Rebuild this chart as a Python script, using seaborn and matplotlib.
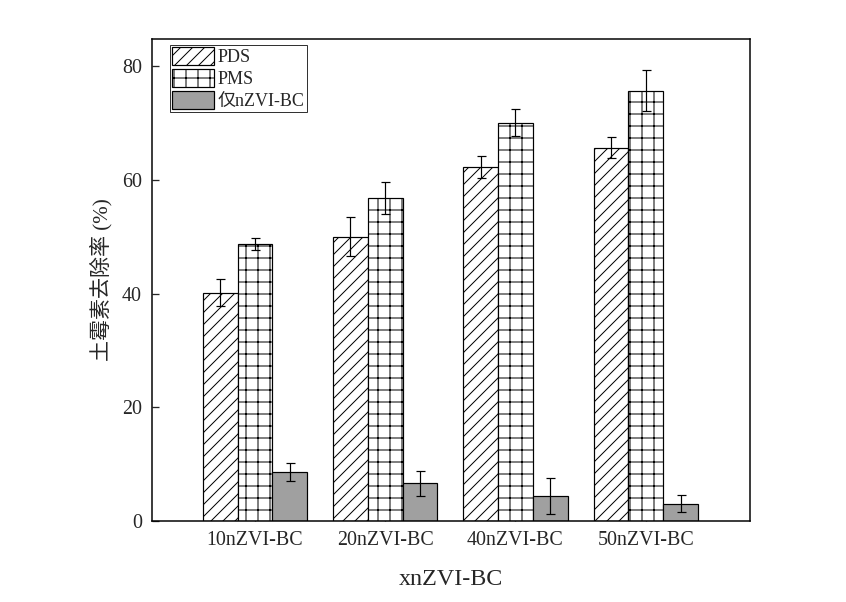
import numpy as np
import pandas as pd
import matplotlib
matplotlib.use('Agg')
import matplotlib.pyplot as plt
import seaborn as sns
from matplotlib.patches import Patch

categories = ['10nZVI-BC', '20nZVI-BC', '40nZVI-BC', '50nZVI-BC']
series = ['PDS', 'PMS', '仅nZVI-BC']
pds = [40.2, 50.0, 62.3, 65.7]
pds_err = [2.4, 3.4, 1.9, 1.9]
pms = [48.7, 56.8, 70.1, 75.7]
pms_err = [1.1, 2.8, 2.3, 3.6]
only = [8.6, 6.6, 4.4, 3.0]
only_err = [1.6, 2.2, 3.1, 1.5]

values = [pds, pms, only]
errors = [pds_err, pms_err, only_err]

rows = []
for s, vals in zip(series, values):
    for c, v in zip(categories, vals):
        rows.append({'cat': c, 'series': s, 'val': v})
df = pd.DataFrame(rows)

sns.set_style('white')
plt.rcParams['font.family'] = ['Liberation Serif', 'Noto Sans CJK SC']
plt.rcParams['hatch.linewidth'] = 1.0

DPI = 72
fig = plt.figure(figsize=(846 / DPI, 602 / DPI), dpi=DPI)
ax = fig.add_axes([152 / 846, 81 / 602, 598 / 846, 482 / 602])

colors = ['white', 'white', '#a0a0a0']
hatches = ['//', '+', '']
sns.barplot(data=df, x='cat', y='val', hue='series', order=categories,
            hue_order=series, palette=colors, errorbar=None, width=0.8,
            edgecolor='black', linewidth=1.2, ax=ax, legend=False)

for cont, h, errs in zip(ax.containers, hatches, errors):
    xs, ys = [], []
    for p in cont.patches:
        p.set_hatch(h)
        p.set_edgecolor('black')
        xs.append(p.get_x() + p.get_width() / 2)
        ys.append(p.get_height())
    ax.errorbar(xs, ys, yerr=errs, fmt='none', ecolor='black',
                elinewidth=1.2, capsize=4.5, capthick=1.2, zorder=5)

ax.set_xlim(-0.79, 3.80)
ax.set_ylim(0, 84.8)
ax.set_yticks([0, 20, 40, 60, 80])
ax.tick_params(axis='y', direction='in', length=7, width=1.3, labelsize=20, pad=10, left=True)
ax.tick_params(axis='x', direction='in', length=10, width=1.3, labelsize=20, pad=10, bottom=True)

for sp in ax.spines.values():
    sp.set_visible(True)
    sp.set_color('black')
    sp.set_linewidth(1.5)

ax.set_xlabel('xnZVI-BC', fontsize=24, labelpad=19)
ax.set_ylabel('土霉素去除率 (%)', fontsize=21, labelpad=10)

handles = [Patch(facecolor=c, edgecolor='black', hatch=h, linewidth=1.2)
           for c, h in zip(colors, hatches)]
leg = ax.legend(handles, series, loc='upper left', bbox_to_anchor=(0.03, 0.988),
                borderaxespad=0, fontsize=18, frameon=True, fancybox=False,
                edgecolor='black', handlelength=2.35, handleheight=1.2,
                labelspacing=0.15, handletextpad=0.2, borderpad=0.12)
leg.get_frame().set_linewidth(1.0)

fig.savefig('out.png', dpi=DPI)
